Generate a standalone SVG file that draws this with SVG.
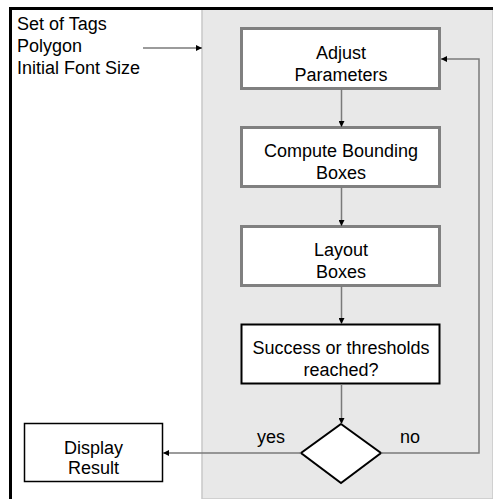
<svg xmlns="http://www.w3.org/2000/svg" width="493" height="499" viewBox="0 0 493 499">
  <style>
    .t { font-family: "Liberation Sans", Arial, sans-serif; font-size: 18px; fill: #000; }
    .c { text-anchor: middle; }
    .box { fill: #fff; stroke: #808080; stroke-width: 3; }
    .dark { fill: #fff; stroke: #000; stroke-width: 2; }
    .wire { fill: none; stroke: #7a7a7a; stroke-width: 1.5; }
  </style>
  <defs>
    <marker id="arr" viewBox="0 0 10 10" refX="10" refY="5" markerWidth="6" markerHeight="6" markerUnits="userSpaceOnUse" orient="auto">
      <path d="M0,0 L10,5 L0,10 z" fill="#000"/>
    </marker>
  </defs>

  <!-- background panels -->
  <rect x="0" y="0" width="493" height="499" fill="#fff"/>
  <rect x="202" y="9" width="291" height="490" fill="#e8e8e8" stroke="#c8c8c8" stroke-width="1.5"/>
  <path d="M10.5,499 V8.5 H493" fill="none" stroke="#000" stroke-width="3"/>

  <!-- inputs -->
  <g id="inputs">
    <text class="t" x="17" y="29.5">Set of Tags</text>
    <text class="t" x="17" y="51.5">Polygon</text>
    <text class="t" x="17" y="73.5">Initial Font Size</text>
  </g>

  <g id="adjust">
    <rect class="box" x="241.5" y="28.5" width="198" height="60"/>
    <text class="t c" x="341" y="59">Adjust</text>
    <text class="t c" x="341" y="81">Parameters</text>
  </g>

  <g id="compute">
    <rect class="box" x="241.5" y="127.5" width="198" height="59"/>
    <text class="t c" x="341" y="157">Compute Bounding</text>
    <text class="t c" x="341" y="179">Boxes</text>
  </g>

  <g id="layout">
    <rect class="box" x="241.5" y="226.5" width="198" height="59"/>
    <text class="t c" x="341" y="256">Layout</text>
    <text class="t c" x="341" y="278">Boxes</text>
  </g>

  <g id="check">
    <rect class="dark" x="241.5" y="324.5" width="198" height="59"/>
    <text class="t c" x="341" y="354">Success or thresholds</text>
    <text class="t c" x="341" y="376">reached?</text>
  </g>

  <g id="decision">
    <polygon class="dark" points="341,424 381,453 341,483 301,453"/>
  </g>

  <g id="display">
    <rect x="24.5" y="423.5" width="138" height="58" fill="#fff" stroke="#000" stroke-width="1.5"/>
    <text class="t c" x="93.5" y="454">Display</text>
    <text class="t c" x="93.5" y="474">Result</text>
  </g>

  <g id="connectors">
    <line class="wire" x1="143" y1="48" x2="202" y2="48" marker-end="url(#arr)"/>
    <line class="wire" x1="341.5" y1="89" x2="341.5" y2="127" marker-end="url(#arr)"/>
    <line class="wire" x1="341.5" y1="187" x2="341.5" y2="226" marker-end="url(#arr)"/>
    <line class="wire" x1="341.5" y1="286" x2="341.5" y2="324" marker-end="url(#arr)"/>
    <line class="wire" x1="341.5" y1="384" x2="341.5" y2="424" marker-end="url(#arr)"/>
    <polyline class="wire" points="381,453 479,453 479,59 441,59" marker-end="url(#arr)"/>
    <line class="wire" x1="301" y1="453" x2="163" y2="453" marker-end="url(#arr)"/>
    <text class="t" x="257" y="443">yes</text>
    <text class="t" x="400" y="443">no</text>
  </g>
</svg>
